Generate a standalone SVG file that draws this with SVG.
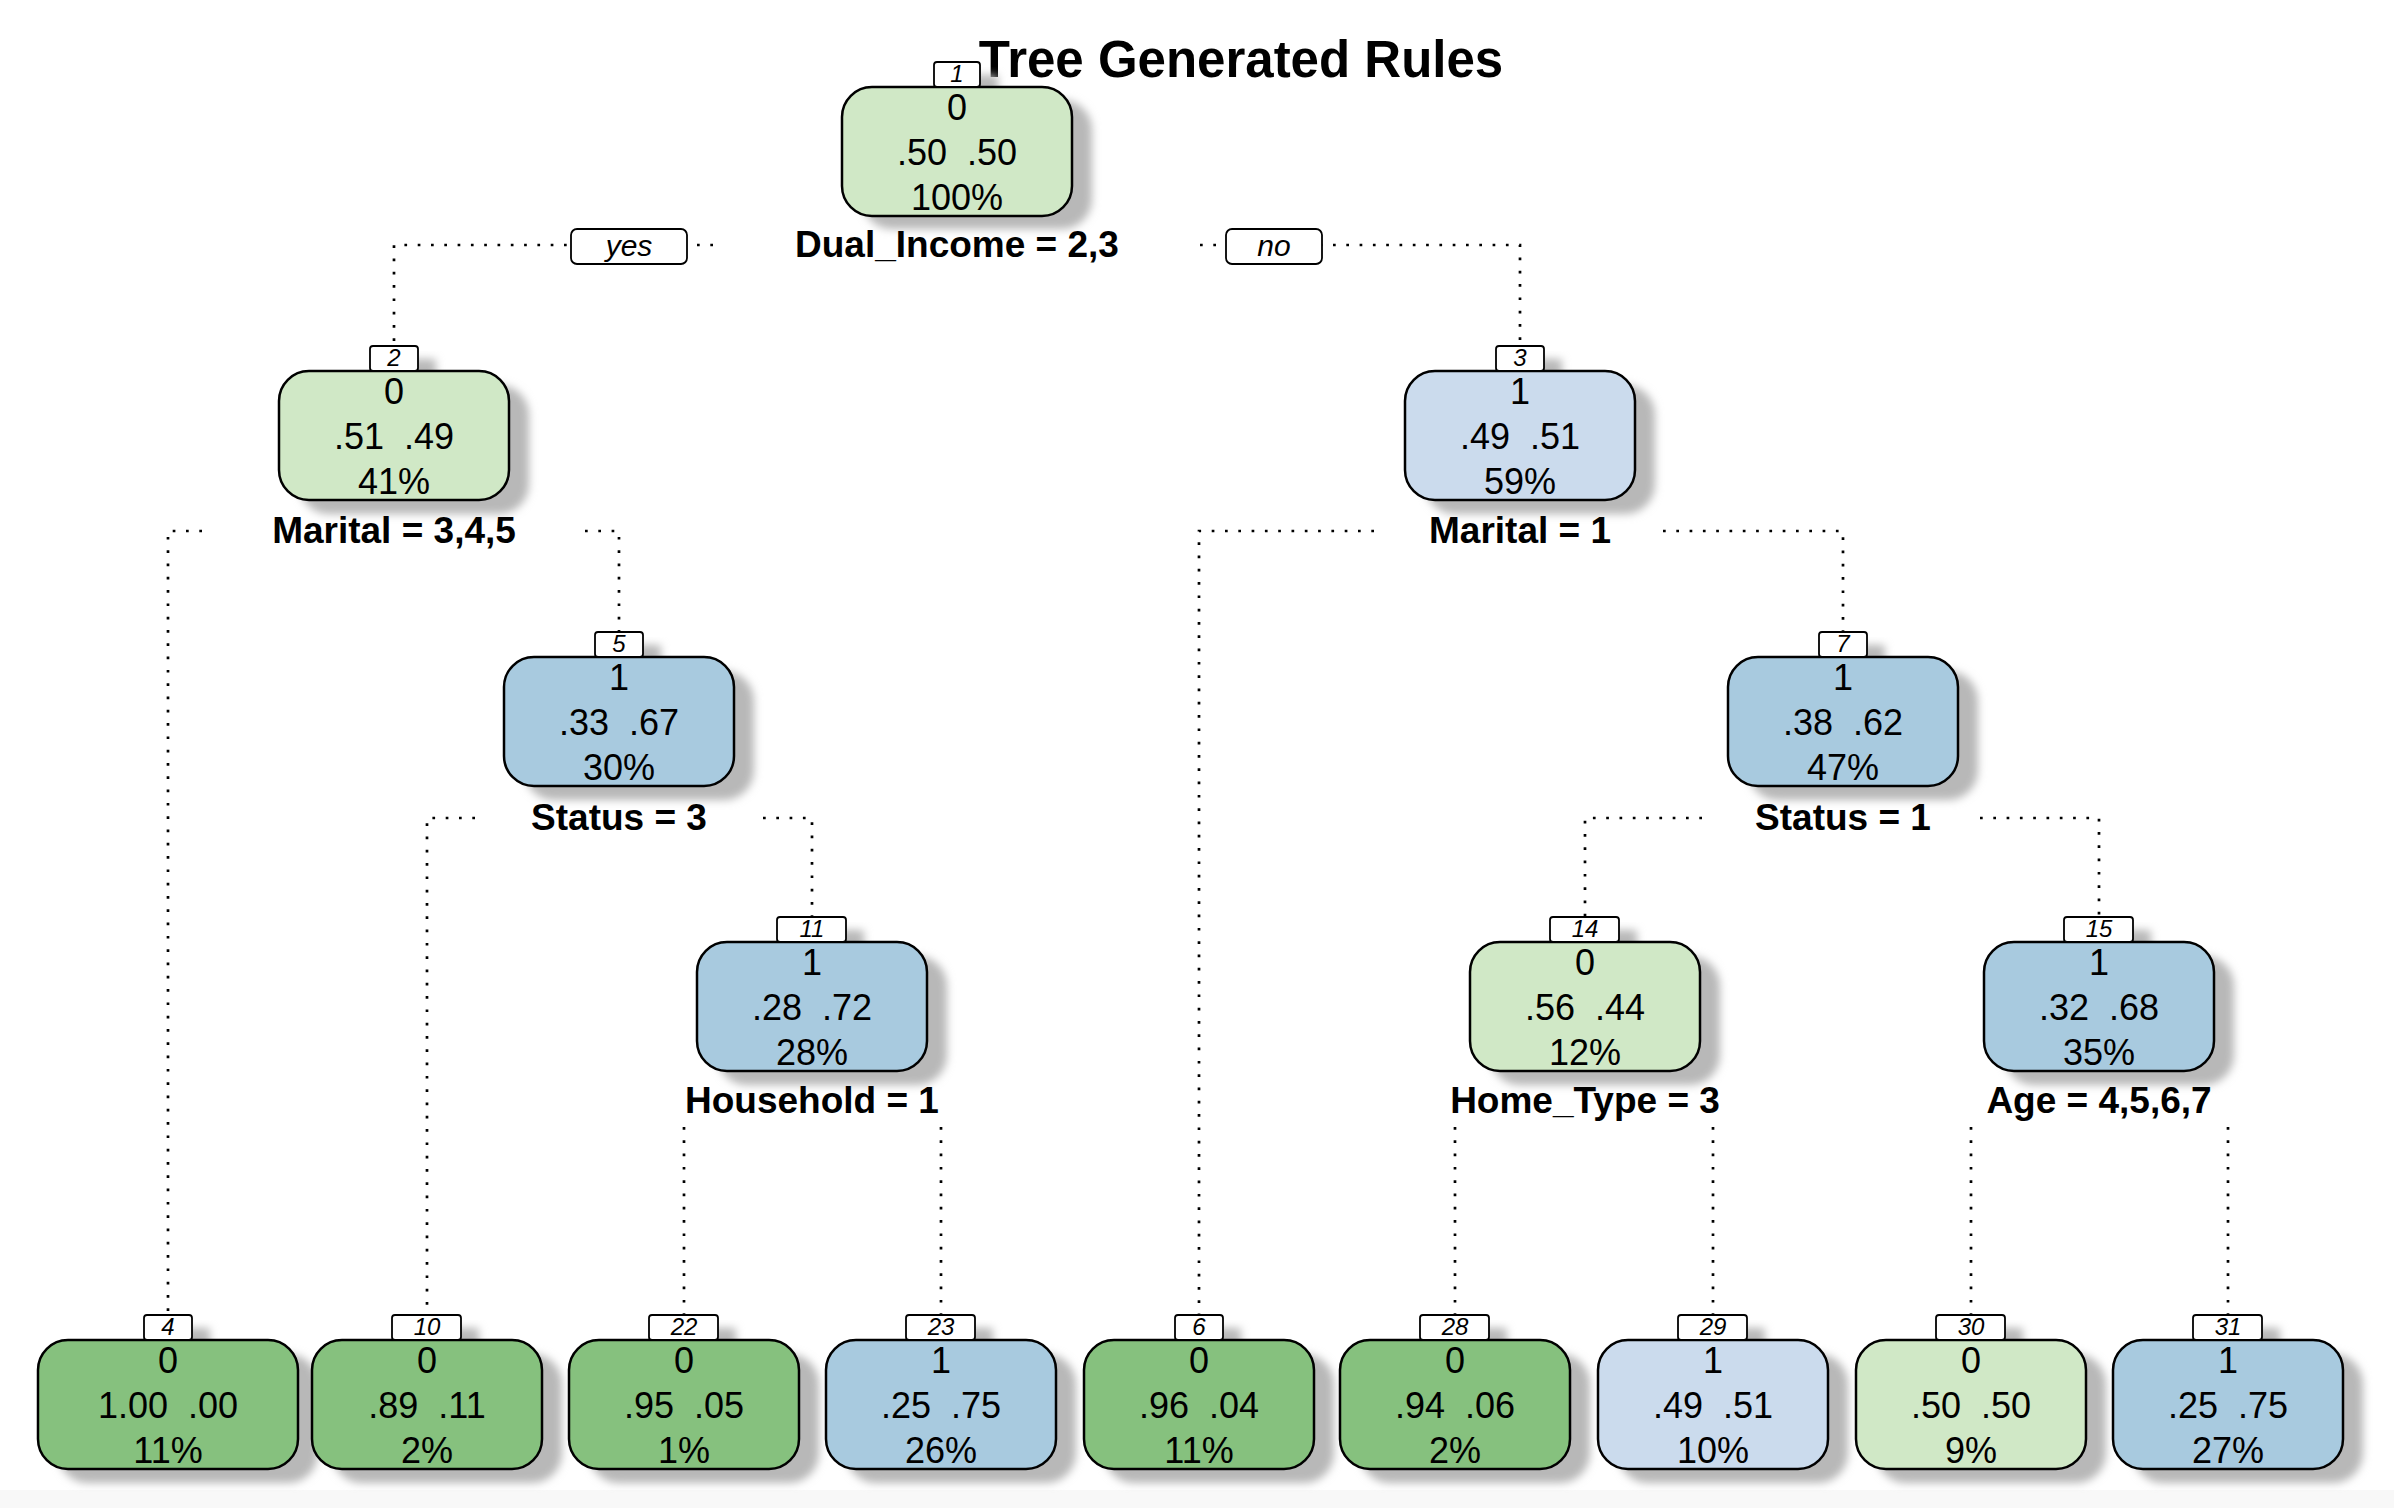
<svg xmlns="http://www.w3.org/2000/svg" width="2394" height="1508" viewBox="0 0 2394 1508">
<defs>
<style>
text{white-space:pre}
.bg{fill:#ffffff}
.band{fill:#f8f8f8}
.title{font-family:"Liberation Sans",Arial,sans-serif;font-weight:bold;font-size:51px;fill:#000;text-anchor:middle}
.box{stroke:#000;stroke-width:2.5}
.lg{fill:#d0e8c6}
.dg{fill:#86c17e}
.lb{fill:#cbdbed}
.mb{fill:#a8cadf}
.sh{fill:#b8b8b8;filter:url(#blur)}
.nt{font-family:"Liberation Sans",Arial,sans-serif;font-size:36px;fill:#000;text-anchor:middle}
.st{font-family:"Liberation Sans",Arial,sans-serif;font-weight:bold;font-size:37px;fill:#000;text-anchor:middle}
.lbl{fill:#fff;stroke:#000;stroke-width:1.8}
.lt{font-family:"Liberation Sans",Arial,sans-serif;font-style:italic;font-size:24px;fill:#000;text-anchor:middle}
.yt{font-family:"Liberation Sans",Arial,sans-serif;font-style:italic;font-size:30px;fill:#000;text-anchor:middle}
.con{fill:none;stroke:#000;stroke-width:2.7;stroke-dasharray:2.7 10.6}
</style>
<filter id="blur" x="-20%" y="-30%" width="140%" height="160%"><feGaussianBlur stdDeviation="4.5"/></filter>
</defs>
<rect class="bg" x="0" y="0" width="2394" height="1508"/>
<rect class="band" x="0" y="1490" width="2394" height="18"/>
<text class="title" x="1241" y="77">Tree Generated Rules</text>

<g id="connectors">
<path class="con" d="M713,245 H394 V346"/>
<path class="con" d="M1200,245 H1520 V346"/>
<path class="con" d="M202,531 H168 V1315"/>
<path class="con" d="M585,531 H619 V632"/>
<path class="con" d="M1374,531 H1199 V1315"/>
<path class="con" d="M1663,531 H1843 V632"/>
<path class="con" d="M475,818 H427 V1315"/>
<path class="con" d="M763,818 H812 V918"/>
<path class="con" d="M1702,818 H1585 V918"/>
<path class="con" d="M1980,818 H2099 V918"/>
<path class="con" d="M684,1127 V1315"/>
<path class="con" d="M941,1127 V1315"/>
<path class="con" d="M1455,1127 V1315"/>
<path class="con" d="M1713,1127 V1315"/>
<path class="con" d="M1971,1127 V1315"/>
<path class="con" d="M2228,1127 V1315"/>
<rect class="lbl" x="571" y="229" width="116" height="35" rx="6"/>
<text class="yt" x="629" y="256">yes</text>
<rect class="lbl" x="1226" y="229" width="96" height="35" rx="6"/>
<text class="yt" x="1274" y="256">no</text>
</g>

<g id="node1">
<rect class="sh" x="862" y="100" width="230" height="129" rx="30"/>
<rect class="sh" x="952" y="75" width="46" height="25" rx="3"/>
<rect class="box lg" x="842" y="87" width="230" height="129" rx="30"/>
<rect class="lbl" x="934" y="62" width="46" height="25" rx="3"/>
<text class="lt" x="957" y="82">1</text>
<text class="nt" x="957" y="120">0</text>
<text class="nt" x="957" y="165">.50  .50</text>
<text class="nt" x="957" y="210">100%</text>
<text class="st" x="957" y="257">Dual_Income = 2,3</text>
</g>

<g id="node2">
<rect class="sh" x="299" y="385" width="230" height="129" rx="30"/>
<rect class="sh" x="388" y="359" width="48" height="25" rx="3"/>
<rect class="box lg" x="279" y="371" width="230" height="129" rx="30"/>
<rect class="lbl" x="370" y="346" width="48" height="25" rx="3"/>
<text class="lt" x="394" y="366">2</text>
<text class="nt" x="394" y="404">0</text>
<text class="nt" x="394" y="449">.51  .49</text>
<text class="nt" x="394" y="494">41%</text>
<text class="st" x="394" y="543">Marital = 3,4,5</text>
</g>

<g id="node3">
<rect class="sh" x="1425" y="385" width="230" height="129" rx="30"/>
<rect class="sh" x="1514" y="359" width="48" height="25" rx="3"/>
<rect class="box lb" x="1405" y="371" width="230" height="129" rx="30"/>
<rect class="lbl" x="1496" y="346" width="48" height="25" rx="3"/>
<text class="lt" x="1520" y="366">3</text>
<text class="nt" x="1520" y="404">1</text>
<text class="nt" x="1520" y="449">.49  .51</text>
<text class="nt" x="1520" y="494">59%</text>
<text class="st" x="1520" y="543">Marital = 1</text>
</g>

<g id="node5">
<rect class="sh" x="524" y="671" width="230" height="129" rx="30"/>
<rect class="sh" x="613" y="645" width="48" height="25" rx="3"/>
<rect class="box mb" x="504" y="657" width="230" height="129" rx="30"/>
<rect class="lbl" x="595" y="632" width="48" height="25" rx="3"/>
<text class="lt" x="619" y="652">5</text>
<text class="nt" x="619" y="690">1</text>
<text class="nt" x="619" y="735">.33  .67</text>
<text class="nt" x="619" y="780">30%</text>
<text class="st" x="619" y="830">Status = 3</text>
</g>

<g id="node7">
<rect class="sh" x="1748" y="671" width="230" height="129" rx="30"/>
<rect class="sh" x="1837" y="645" width="48" height="25" rx="3"/>
<rect class="box mb" x="1728" y="657" width="230" height="129" rx="30"/>
<rect class="lbl" x="1819" y="632" width="48" height="25" rx="3"/>
<text class="lt" x="1843" y="652">7</text>
<text class="nt" x="1843" y="690">1</text>
<text class="nt" x="1843" y="735">.38  .62</text>
<text class="nt" x="1843" y="780">47%</text>
<text class="st" x="1843" y="830">Status = 1</text>
</g>

<g id="node11">
<rect class="sh" x="717" y="956" width="230" height="129" rx="30"/>
<rect class="sh" x="795" y="930" width="69" height="25" rx="3"/>
<rect class="box mb" x="697" y="942" width="230" height="129" rx="30"/>
<rect class="lbl" x="777" y="917" width="69" height="25" rx="3"/>
<text class="lt" x="812" y="937">11</text>
<text class="nt" x="812" y="975">1</text>
<text class="nt" x="812" y="1020">.28  .72</text>
<text class="nt" x="812" y="1065">28%</text>
<text class="st" x="812" y="1113">Household = 1</text>
</g>

<g id="node14">
<rect class="sh" x="1490" y="956" width="230" height="129" rx="30"/>
<rect class="sh" x="1568" y="930" width="69" height="25" rx="3"/>
<rect class="box lg" x="1470" y="942" width="230" height="129" rx="30"/>
<rect class="lbl" x="1550" y="917" width="69" height="25" rx="3"/>
<text class="lt" x="1585" y="937">14</text>
<text class="nt" x="1585" y="975">0</text>
<text class="nt" x="1585" y="1020">.56  .44</text>
<text class="nt" x="1585" y="1065">12%</text>
<text class="st" x="1585" y="1113">Home_Type = 3</text>
</g>

<g id="node15">
<rect class="sh" x="2004" y="956" width="230" height="129" rx="30"/>
<rect class="sh" x="2082" y="930" width="69" height="25" rx="3"/>
<rect class="box mb" x="1984" y="942" width="230" height="129" rx="30"/>
<rect class="lbl" x="2064" y="917" width="69" height="25" rx="3"/>
<text class="lt" x="2099" y="937">15</text>
<text class="nt" x="2099" y="975">1</text>
<text class="nt" x="2099" y="1020">.32  .68</text>
<text class="nt" x="2099" y="1065">35%</text>
<text class="st" x="2099" y="1113">Age = 4,5,6,7</text>
</g>

<g id="leaf4">
<rect class="sh" x="58" y="1354" width="260" height="129" rx="30"/>
<rect class="sh" x="162" y="1328" width="48" height="25" rx="3"/>
<rect class="box dg" x="38" y="1340" width="260" height="129" rx="30"/>
<rect class="lbl" x="144" y="1315" width="48" height="25" rx="3"/>
<text class="lt" x="168" y="1335">4</text>
<text class="nt" x="168" y="1373">0</text>
<text class="nt" x="168" y="1418">1.00  .00</text>
<text class="nt" x="168" y="1463">11%</text>
</g>

<g id="leaf10">
<rect class="sh" x="332" y="1354" width="230" height="129" rx="30"/>
<rect class="sh" x="410" y="1328" width="69" height="25" rx="3"/>
<rect class="box dg" x="312" y="1340" width="230" height="129" rx="30"/>
<rect class="lbl" x="392" y="1315" width="69" height="25" rx="3"/>
<text class="lt" x="427" y="1335">10</text>
<text class="nt" x="427" y="1373">0</text>
<text class="nt" x="427" y="1418">.89  .11</text>
<text class="nt" x="427" y="1463">2%</text>
</g>

<g id="leaf22">
<rect class="sh" x="589" y="1354" width="230" height="129" rx="30"/>
<rect class="sh" x="667" y="1328" width="69" height="25" rx="3"/>
<rect class="box dg" x="569" y="1340" width="230" height="129" rx="30"/>
<rect class="lbl" x="649" y="1315" width="69" height="25" rx="3"/>
<text class="lt" x="684" y="1335">22</text>
<text class="nt" x="684" y="1373">0</text>
<text class="nt" x="684" y="1418">.95  .05</text>
<text class="nt" x="684" y="1463">1%</text>
</g>

<g id="leaf23">
<rect class="sh" x="846" y="1354" width="230" height="129" rx="30"/>
<rect class="sh" x="924" y="1328" width="69" height="25" rx="3"/>
<rect class="box mb" x="826" y="1340" width="230" height="129" rx="30"/>
<rect class="lbl" x="906" y="1315" width="69" height="25" rx="3"/>
<text class="lt" x="941" y="1335">23</text>
<text class="nt" x="941" y="1373">1</text>
<text class="nt" x="941" y="1418">.25  .75</text>
<text class="nt" x="941" y="1463">26%</text>
</g>

<g id="leaf6">
<rect class="sh" x="1104" y="1354" width="230" height="129" rx="30"/>
<rect class="sh" x="1193" y="1328" width="48" height="25" rx="3"/>
<rect class="box dg" x="1084" y="1340" width="230" height="129" rx="30"/>
<rect class="lbl" x="1175" y="1315" width="48" height="25" rx="3"/>
<text class="lt" x="1199" y="1335">6</text>
<text class="nt" x="1199" y="1373">0</text>
<text class="nt" x="1199" y="1418">.96  .04</text>
<text class="nt" x="1199" y="1463">11%</text>
</g>

<g id="leaf28">
<rect class="sh" x="1360" y="1354" width="230" height="129" rx="30"/>
<rect class="sh" x="1438" y="1328" width="69" height="25" rx="3"/>
<rect class="box dg" x="1340" y="1340" width="230" height="129" rx="30"/>
<rect class="lbl" x="1420" y="1315" width="69" height="25" rx="3"/>
<text class="lt" x="1455" y="1335">28</text>
<text class="nt" x="1455" y="1373">0</text>
<text class="nt" x="1455" y="1418">.94  .06</text>
<text class="nt" x="1455" y="1463">2%</text>
</g>

<g id="leaf29">
<rect class="sh" x="1618" y="1354" width="230" height="129" rx="30"/>
<rect class="sh" x="1696" y="1328" width="69" height="25" rx="3"/>
<rect class="box lb" x="1598" y="1340" width="230" height="129" rx="30"/>
<rect class="lbl" x="1678" y="1315" width="69" height="25" rx="3"/>
<text class="lt" x="1713" y="1335">29</text>
<text class="nt" x="1713" y="1373">1</text>
<text class="nt" x="1713" y="1418">.49  .51</text>
<text class="nt" x="1713" y="1463">10%</text>
</g>

<g id="leaf30">
<rect class="sh" x="1876" y="1354" width="230" height="129" rx="30"/>
<rect class="sh" x="1954" y="1328" width="69" height="25" rx="3"/>
<rect class="box lg" x="1856" y="1340" width="230" height="129" rx="30"/>
<rect class="lbl" x="1936" y="1315" width="69" height="25" rx="3"/>
<text class="lt" x="1971" y="1335">30</text>
<text class="nt" x="1971" y="1373">0</text>
<text class="nt" x="1971" y="1418">.50  .50</text>
<text class="nt" x="1971" y="1463">9%</text>
</g>

<g id="leaf31">
<rect class="sh" x="2133" y="1354" width="230" height="129" rx="30"/>
<rect class="sh" x="2211" y="1328" width="69" height="25" rx="3"/>
<rect class="box mb" x="2113" y="1340" width="230" height="129" rx="30"/>
<rect class="lbl" x="2193" y="1315" width="69" height="25" rx="3"/>
<text class="lt" x="2228" y="1335">31</text>
<text class="nt" x="2228" y="1373">1</text>
<text class="nt" x="2228" y="1418">.25  .75</text>
<text class="nt" x="2228" y="1463">27%</text>
</g>
</svg>
